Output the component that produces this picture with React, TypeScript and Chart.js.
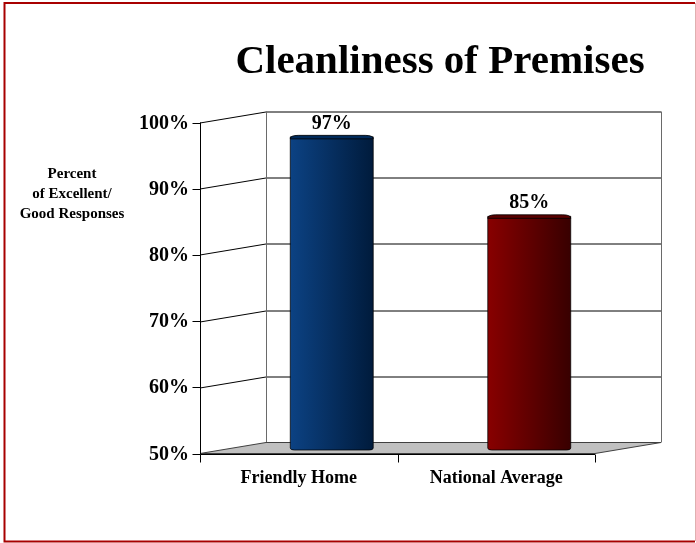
import React, { useEffect, useRef } from "react";
import { Chart, registerables } from "chart.js";

Chart.register(...registerables);

const title = "Cleanliness of Premises";
const yTitleLines = ["Percent", "of Excellent/", "Good Responses"];
const categories = ["Friendly Home", "National Average"];
const values = [97, 85];
const valueLabels = ["97%", "85%"];
const yTickValues = [50, 60, 70, 80, 90, 100];
const yTickLabels = ["50%", "60%", "70%", "80%", "90%", "100%"];
const barColorsLight = ["#0c4283", "#880000"];
const barColorsDark = ["#001b3c", "#380000"];
const barColorsCap = ["#002a5a", "#5a0000"];

const FONT = '"Liberation Serif", "Times New Roman", serif';

const DX = 33;
const DY = 5.5;

const decorPlugin = {
  id: "decor3d",
  beforeDraw(chart: any) {
    const ctx = chart.ctx;
    ctx.save();
    ctx.fillStyle = "#ffffff";
    ctx.fillRect(0, 0, chart.width, chart.height);
    ctx.strokeStyle = "#a80000";
    ctx.lineWidth = 2;
    ctx.beginPath();
    ctx.moveTo(695, 3);
    ctx.lineTo(4.5, 3);
    ctx.lineTo(4.5, 541.5);
    ctx.lineTo(695, 541.5);
    ctx.stroke();
    ctx.strokeStyle = "#e0b0b0";
    ctx.lineWidth = 1;
    ctx.beginPath();
    ctx.moveTo(695.5, 3);
    ctx.lineTo(695.5, 541);
    ctx.stroke();
    ctx.restore();
  },
  beforeDatasetsDraw(chart: any) {
    const ctx = chart.ctx;
    const ys = chart.scales.y;
    const L = chart.chartArea.left;
    const R = chart.chartArea.right;
    const yTop = ys.getPixelForValue(yTickValues[yTickValues.length - 1]);
    const yBot = ys.getPixelForValue(yTickValues[0]);
    ctx.save();
    ctx.lineWidth = 1;
    ctx.strokeStyle = "#000000";
    for (let i = 1; i < yTickValues.length; i++) {
      const ym = Math.round(ys.getPixelForValue(yTickValues[i]));
      ctx.beginPath();
      ctx.moveTo(L - DX, ym + DY + 0.5);
      ctx.lineTo(L + DX, ym - DY + 0.5);
      ctx.lineTo(R + DX, ym - DY + 0.5);
      ctx.stroke();
    }
    ctx.strokeStyle = "#6a6a6a";
    ctx.beginPath();
    ctx.moveTo(Math.round(L + DX) + 0.5, yTop - DY);
    ctx.lineTo(Math.round(L + DX) + 0.5, yBot - DY);
    ctx.moveTo(Math.round(R + DX) + 0.5, yTop - DY);
    ctx.lineTo(Math.round(R + DX) + 0.5, yBot - DY);
    ctx.stroke();
    ctx.fillStyle = "#c0c0c0";
    ctx.strokeStyle = "#404040";
    ctx.beginPath();
    ctx.moveTo(L - DX, yBot + DY);
    ctx.lineTo(R - DX, yBot + DY);
    ctx.lineTo(R + DX, yBot - DY);
    ctx.lineTo(L + DX, yBot - DY);
    ctx.closePath();
    ctx.fill();
    ctx.stroke();
    ctx.strokeStyle = "#000000";
    const fx = Math.round(L - DX) + 0.5;
    const fy = Math.round(yBot + DY) + 0.5;
    ctx.beginPath();
    ctx.moveTo(fx, yTop + DY);
    ctx.lineTo(fx, fy);
    ctx.lineTo(R - DX, fy);
    ctx.stroke();
    ctx.beginPath();
    for (let i = 0; i < yTickValues.length; i++) {
      const ym = Math.round(ys.getPixelForValue(yTickValues[i]) + DY) + 0.5;
      ctx.moveTo(fx - 8, ym);
      ctx.lineTo(fx, ym);
    }
    const n = categories.length;
    for (let i = 0; i <= n; i++) {
      const bx = Math.round(L + ((R - L) * i) / n - DX) + 0.5;
      ctx.moveTo(bx, fy);
      ctx.lineTo(bx, fy + 8);
    }
    ctx.stroke();
    ctx.restore();
  },
  afterDatasetsDraw(chart: any) {
    const ctx = chart.ctx;
    const ys = chart.scales.y;
    const L = chart.chartArea.left;
    const meta = chart.getDatasetMeta(0);
    const floorY = ys.getPixelForValue(yTickValues[0]);
    ctx.save();
    meta.data.forEach((el: any, i: number) => {
      const w = el.width;
      const x0 = el.x - w / 2;
      const x1 = el.x + w / 2;
      const top = el.y;
      const bot = floorY + 2;
      const g = ctx.createLinearGradient(x0, 0, x1, 0);
      g.addColorStop(0, barColorsLight[i]);
      g.addColorStop(1, barColorsDark[i]);
      ctx.fillStyle = g;
      ctx.beginPath();
      ctx.moveTo(x0, top);
      ctx.lineTo(x1, top);
      ctx.lineTo(x1, bot - 2);
      ctx.quadraticCurveTo(x1, bot, x1 - 4, bot);
      ctx.lineTo(x0 + 4, bot);
      ctx.quadraticCurveTo(x0, bot, x0, bot - 2);
      ctx.closePath();
      ctx.fill();
      ctx.strokeStyle = "rgba(0,0,0,0.75)";
      ctx.lineWidth = 1;
      ctx.stroke();
      ctx.fillStyle = barColorsCap[i];
      ctx.beginPath();
      ctx.moveTo(x0, top + 2);
      ctx.quadraticCurveTo(x0, top - 1.5, x0 + 8, top - 1.5);
      ctx.lineTo(x1 - 8, top - 1.5);
      ctx.quadraticCurveTo(x1, top - 1.5, x1, top + 2);
      ctx.lineTo(x0, top + 2);
      ctx.closePath();
      ctx.fill();
      ctx.strokeStyle = "rgba(0,0,0,0.8)";
      ctx.stroke();
      ctx.fillStyle = "#000000";
      ctx.font = "bold 20px " + FONT;
      ctx.textAlign = "center";
      ctx.textBaseline = "alphabetic";
      ctx.fillText(valueLabels[i], el.x, top - 8);
      ctx.font = "bold 18px " + FONT;
      ctx.fillText(categories[i], el.x - DX, floorY + DY + 29);
    });
    ctx.font = "bold 20px " + FONT;
    ctx.textAlign = "right";
    ctx.textBaseline = "middle";
    ctx.fillStyle = "#000000";
    for (let i = 0; i < yTickValues.length; i++) {
      const ym = ys.getPixelForValue(yTickValues[i]) + DY;
      ctx.fillText(yTickLabels[i], L - DX - 11, ym + 1);
    }
    ctx.textAlign = "center";
    ctx.textBaseline = "alphabetic";
    ctx.font = "bold 41px " + FONT;
    ctx.fillText(title, 440, 73);
    ctx.font = "bold 15px " + FONT;
    yTitleLines.forEach((line, k) => {
      ctx.fillText(line, 72, 178 + k * 20);
    });
    ctx.restore();
  },
};

export default function App() {
  const ref = useRef<HTMLCanvasElement | null>(null);
  useEffect(() => {
    document.body.style.margin = "0";
    const canvas = ref.current;
    if (!canvas) return;
    const chart = new Chart(canvas, {
      type: "bar",
      data: {
        labels: categories,
        datasets: [
          {
            data: values,
            backgroundColor: "rgba(0,0,0,0)",
            borderWidth: 0,
            barPercentage: 0.42,
            categoryPercentage: 1,
          },
        ],
      },
      options: {
        responsive: false,
        animation: false,
        devicePixelRatio: 1,
        layout: { padding: { left: 233, right: 68, top: 117, bottom: 95 } },
        plugins: {
          legend: { display: false },
          title: { display: false },
          tooltip: { enabled: false },
        },
        scales: {
          x: { display: false },
          y: { display: false, min: 50, max: 100 },
        },
      },
      plugins: [decorPlugin],
    });
    return () => chart.destroy();
  }, []);
  return (
    <div style={{ width: 696, height: 543 }}>
      <canvas ref={ref} width={696} height={543} style={{ display: "block" }} />
    </div>
  );
}
